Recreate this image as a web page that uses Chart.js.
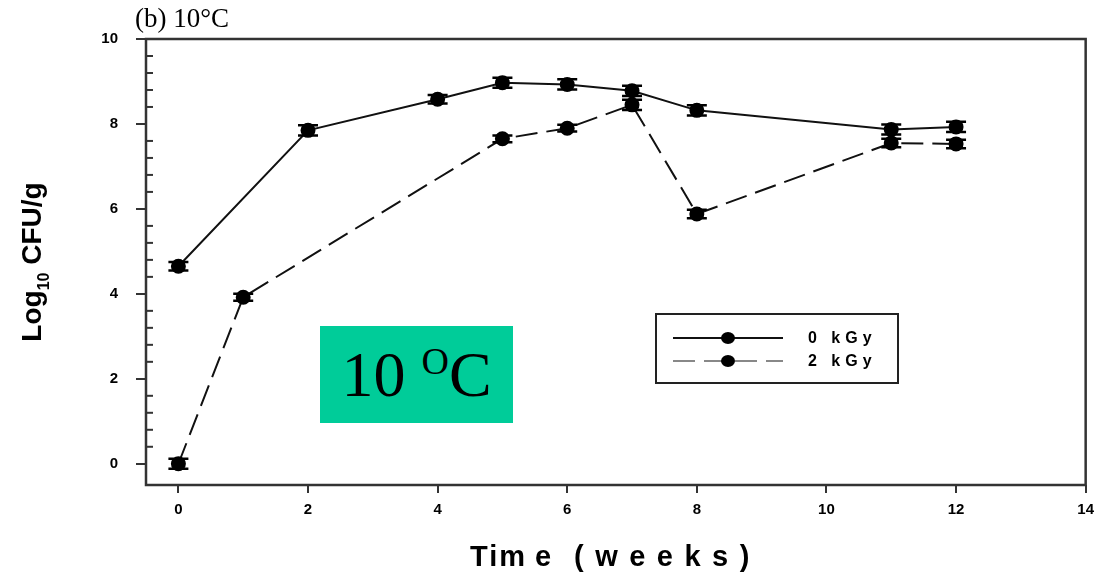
<!DOCTYPE html>
<html>
<head>
<meta charset="utf-8">
<script src="https://cdn.jsdelivr.net/npm/chart.js@4.4.1/dist/chart.umd.min.js"></script>
<style>
    html, body { margin: 0; padding: 0; background: #fff; }
    #wrap { position: relative; width: 1102px; height: 582px; }
    #badge {
        position: absolute; left: 320px; top: 326px; width: 193px; height: 97px;
        background: #00cc99; color: #000; text-align: center;
        font-family: "Liberation Serif", "Times New Roman", serif; font-size: 64px; line-height: 97px;
    }
    #badge span { font-size: 38px; line-height: 0; vertical-align: 22px; }
</style>
</head>
<body>
<div id="wrap">
    <canvas id="chart" width="1102" height="582"></canvas>
    <div id="badge">10 <span>O</span>C</div>
</div>
<script>
// data
var weeks0 = [0, 2, 4, 5, 6, 7, 8, 11, 12];
var cfu0 = [4.65, 7.85, 8.58, 8.97, 8.93, 8.78, 8.32, 7.87, 7.93];
var err0 = [0.1, 0.12, 0.1, 0.12, 0.12, 0.12, 0.12, 0.12, 0.12];

var weeks2 = [0, 1, 5, 6, 7, 8, 11, 12];
var cfu2 = [0.0, 3.92, 7.65, 7.9, 8.45, 5.88, 7.55, 7.53];
var err2 = [0.12, 0.08, 0.08, 0.08, 0.12, 0.1, 0.1, 0.1];

var seriesLabels = ["0 kGy", "2 kGy"];
var xTicks = [0, 2, 4, 6, 8, 10, 12, 14];
var yTicks = [0, 2, 4, 6, 8, 10];

function points(xs, ys) {
    var out = [];
    for (let i = 0; i < xs.length; i++) out.push({ x: xs[i], y: ys[i] });
    return out;
}
function near(v, list) {
    return list.some(function(t) { return Math.abs(t - v) < 1e-6; });
}
function isMinorY(v) {
    return Math.abs(v / 0.4 - Math.round(v / 0.4)) < 1e-6 && !near(v, yTicks);
}

var decor = {
    id: "decor",
    afterDatasetsDraw: function(chart) {
        var ctx = chart.ctx, ys = chart.scales.y;
        var errs = [err0, err2];
        ctx.save();
        ctx.strokeStyle = "#000";
        ctx.lineWidth = 2.5;
        chart.data.datasets.forEach(function(ds, di) {
            var meta = chart.getDatasetMeta(di);
            meta.data.forEach(function(pt, i) {
                var v = ds.data[i].y, e = errs[di][i];
                var top = ys.getPixelForValue(v + e), bot = ys.getPixelForValue(v - e);
                ctx.beginPath();
                ctx.moveTo(pt.x, top); ctx.lineTo(pt.x, bot);
                ctx.moveTo(pt.x - 10, top); ctx.lineTo(pt.x + 10, top);
                ctx.moveTo(pt.x - 10, bot); ctx.lineTo(pt.x + 10, bot);
                ctx.stroke();
            });
        });
        ctx.restore();
    },
    afterDraw: function(chart) {
        var ctx = chart.ctx, a = chart.chartArea, ys = chart.scales.y;
        ctx.save();
        // frame
        ctx.strokeStyle = "#333";
        ctx.lineWidth = 2.5;
        ctx.strokeRect(a.left, a.top, a.right - a.left, a.bottom - a.top);
        // inward minor ticks on y
        ctx.lineWidth = 2;
        ys.ticks.forEach(function(t) {
            if (!isMinorY(t.value)) return;
            var py = ys.getPixelForValue(t.value);
            ctx.beginPath();
            ctx.moveTo(a.left, py); ctx.lineTo(a.left + 7, py);
            ctx.stroke();
        });

        // panel title
        ctx.fillStyle = "#000";
        ctx.font = "27px 'Liberation Serif', 'Times New Roman', serif";
        ctx.textAlign = "left";
        ctx.textBaseline = "alphabetic";
        ctx.fillText("(b) 10\u00B0C", 135, 27);

        // x title, spaced like the original
        ctx.font = "bold 29px 'Liberation Sans', Arial, sans-serif";
        ctx.letterSpacing = "2px";
        ctx.fillText("Tim", 470, 566);
        ctx.fillText("e", 535, 566);
        ctx.letterSpacing = "11.5px";
        ctx.fillText("(weeks)", 574, 566);
        ctx.letterSpacing = "0px";

        // y title with subscript
        ctx.translate(41, 262);
        ctx.rotate(-Math.PI / 2);
        var big = "bold 28px 'Liberation Sans', Arial, sans-serif";
        var small = "bold 16px 'Liberation Sans', Arial, sans-serif";
        ctx.font = big;
        var w1 = ctx.measureText("Log").width;
        var w3 = ctx.measureText(" CFU/g").width;
        ctx.font = small;
        var w2 = ctx.measureText("10").width;
        var x0 = -(w1 + w2 + w3) / 2;
        ctx.font = big;
        ctx.fillText("Log", x0, 0);
        ctx.font = small;
        ctx.fillText("10", x0 + w1, 8);
        ctx.font = big;
        ctx.fillText(" CFU/g", x0 + w1 + w2, 0);
        ctx.setTransform(1, 0, 0, 1, 0, 0);

        // legend box
        ctx.strokeStyle = "#222";
        ctx.lineWidth = 2;
        ctx.strokeRect(656, 314, 242, 69);
        var rows = [338, 361];
        chart.data.datasets.forEach(function(ds, di) {
            var y = rows[di];
            ctx.strokeStyle = di === 0 ? "#111" : "#888";
            ctx.lineWidth = 2;
            ctx.setLineDash(ds.borderDash || []);
            ctx.beginPath();
            ctx.moveTo(673, y); ctx.lineTo(783, y);
            ctx.stroke();
            ctx.setLineDash([]);
            ctx.fillStyle = "#000";
            ctx.beginPath();
            ctx.ellipse(728, y, 7, 6, 0, 0, Math.PI * 2);
            ctx.fill();
            ctx.font = "bold 16px 'Liberation Sans', Arial, sans-serif";
            ctx.letterSpacing = "5px";
            ctx.textBaseline = "middle";
            ctx.fillText(seriesLabels[di], 808, y + 1);
            ctx.letterSpacing = "0px";
        });
        ctx.restore();
    }
};

var tickFont = { family: "'Liberation Sans Narrow', 'Arial Narrow', 'Liberation Sans', Arial", size: 15, weight: "bold" };

new Chart(document.getElementById("chart"), {
    type: "line",
    data: {
        datasets: [{
                label: seriesLabels[0],
                data: points(weeks0, cfu0),
                borderColor: "#111",
                borderWidth: 2,
                pointRadius: 6.5,
                pointBackgroundColor: "#000",
                pointBorderColor: "#000",
                tension: 0,
            },
            {
                label: seriesLabels[1],
                data: points(weeks2, cfu2),
                borderColor: "#111",
                borderWidth: 2,
                borderDash: [22, 9],
                pointRadius: 6.5,
                pointBackgroundColor: "#000",
                pointBorderColor: "#000",
                tension: 0,
            },
        ],
    },
    options: {
        responsive: false,
        animation: false,
        devicePixelRatio: 1,
        layout: { padding: { left: 0, right: 15, top: 39, bottom: 0 } },
        plugins: { legend: { display: false }, tooltip: { enabled: false } },
        scales: {
            x: {
                type: "linear",
                min: -0.5,
                max: 14,
                afterFit: function(s) { s.height = 97; },
                afterBuildTicks: function(s) {
                    s.ticks = xTicks.map(function(v) { return { value: v }; });
                },
                border: { display: false },
                grid: {
                    drawOnChartArea: false,
                    tickLength: 8,
                    lineWidth: 2,
                    color: "#333",
                },
                ticks: {
                    padding: 8,
                    color: "#000",
                    font: tickFont,
                    maxRotation: 0,
                    autoSkip: false,
                },
            },
            y: {
                min: -0.5,
                max: 10,
                afterFit: function(s) { s.width = 146; },
                border: { display: false },
                grid: {
                    drawOnChartArea: false,
                    tickLength: 10,
                    lineWidth: 2,
                    color: function(c) { return c.tick && near(c.tick.value, yTicks) ? "#333" : "rgba(0,0,0,0)"; },
                },
                ticks: {
                    stepSize: 0.4,
                    padding: 18,
                    color: "#000",
                    font: tickFont,
                    autoSkip: false,
                    callback: function(v) { return near(v, yTicks) ? String(Math.round(v)) : ""; },
                },
            },
        },
    },
    plugins: [decor],
});
</script>
</body>
</html>
